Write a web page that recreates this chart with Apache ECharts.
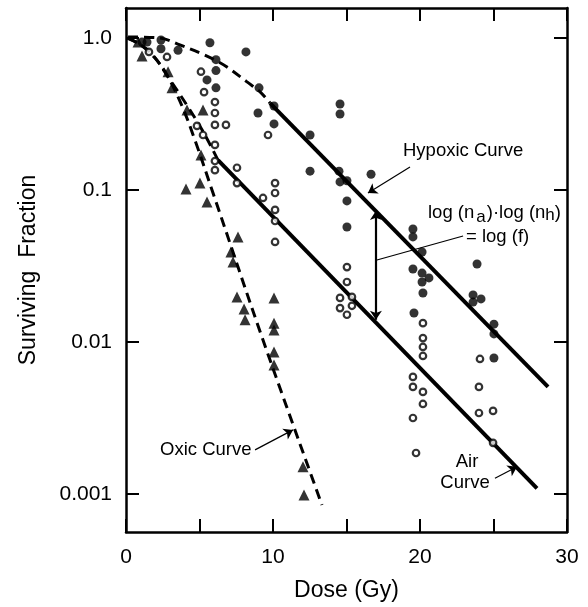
<!DOCTYPE html>
<html>
<head>
<meta charset="utf-8">
<script src="https://cdn.jsdelivr.net/npm/echarts@6/dist/echarts.min.js"></script>
<style>
  html, body { margin: 0; padding: 0; background: #fff; }
  #chart { width: 588px; height: 607px; }
</style>
</head>
<body>
<div id="chart"></div>
<script>
// measured points: [dose (Gy), surviving fraction]
var hypoxicPoints = [[1.09,0.94],[1.43,0.94],[2.38,0.97],[2.38,0.85],[3.54,0.83],[5.71,0.93],[6.12,0.72],
  [8.16,0.81],[6.12,0.61],[5.51,0.53],[6.12,0.47],[9.05,0.47],[10.07,0.357],[8.98,0.321],[10.07,0.272],
  [12.52,0.230],[12.52,0.133],[14.56,0.368],[14.56,0.316],[14.49,0.133],[14.56,0.113],[15.03,0.115],
  [15.03,0.0847],[15.03,0.0571],[16.67,0.127],[19.52,0.0554],[19.52,0.0491],[20.14,0.0391],[19.52,0.0302],
  [20.14,0.0284],[20.61,0.0264],[20.14,0.0248],[20.2,0.021],[19.59,0.0155],[23.88,0.0326],[23.61,0.0204],
  [24.15,0.0192],[23.61,0.0183],[25.03,0.0131],[25.03,0.0113],[25.03,0.00785]];

var airPoints = [[1.56,0.81],[2.79,0.75],[5.10,0.60],[5.31,0.44],[6.05,0.379],[6.05,0.321],[6.80,0.268],
  [6.05,0.268],[5.24,0.230],[4.83,0.264],[6.05,0.198],[6.05,0.155],[6.05,0.135],[7.55,0.140],[7.55,0.111],
  [9.66,0.230],[9.32,0.0886],[10.14,0.111],[10.14,0.0955],[10.14,0.0739],[10.14,0.0625],[10.14,0.0455],
  [15.03,0.0311],[15.03,0.0248],[14.56,0.0195],[15.37,0.0198],[14.56,0.0167],[15.37,0.0173],[15.03,0.0151],
  [20.2,0.0133],[20.2,0.0106],[20.2,0.00927],[20.2,0.00809],[24.08,0.00773],[19.52,0.00589],[19.52,0.00506],
  [20.2,0.00469],[20.2,0.00391],[19.52,0.00316],[19.73,0.00186],[24.01,0.00506],[24.01,0.00341],
  [24.97,0.00352],[24.97,0.00217]];

var oxicPoints = [[0.82,0.94],[1.09,0.76],[2.86,0.60],[3.13,0.47],[4.15,0.336],[5.24,0.336],[5.10,0.170],
  [4.08,0.1016],[5.03,0.111],[5.51,0.0834],[7.62,0.0491],[7.14,0.0391],[7.28,0.0336],[7.55,0.0198],
  [8.03,0.0165],[8.10,0.0140],[10.07,0.0195],[10.07,0.0133],[10.07,0.0120],[10.07,0.00859],[10.07,0.00706],
  [12.04,0.00151],[12.11,0.000985]];

// fitted curves
var hypoxicShoulder = [[0.14,1.015],[2.31,1.0],[3.67,0.90],[5.03,0.797],[6.05,0.716],[6.87,0.644],
  [8.23,0.514],[9.12,0.442],[9.80,0.373]];
var hypoxicLine = [[9.80,0.373],[28.71,0.00506]];
var airShoulder = [[0.14,1.0],[1.63,0.81],[2.99,0.53],[4.35,0.336],[5.37,0.230],[6.26,0.157]];
var airLine = [[6.26,0.157],[27.96,0.00109]];
var oxicCurve = [[0.07,1.0],[0.95,0.91],[1.97,0.738],[2.79,0.571],[3.81,0.357],[4.69,0.213],
  [5.92,0.0955],[9.32,0.0103],[13.33,0.000847]];

var xTicks = [0, 10, 20, 30];
var yTicks = [0.001, 0.01, 0.1, 1];
var yLabels = ['0.001', '0.01', '0.1', '1.0'];

var font = '"Liberation Sans", Arial, sans-serif';
var myChart = echarts.init(document.getElementById('chart'), null, {renderer: 'canvas'});

var axisLineStyle = {color: '#000', width: 2.5};
var tickStyle = {color: '#000', width: 2};

function xAxisDef(pos, showLabel) {
  return {
    type: 'value', position: pos, min: 0, max: 30, interval: 5,
    axisLine: {show: true, onZero: false, lineStyle: axisLineStyle},
    axisTick: {show: true, inside: true, length: 13, lineStyle: tickStyle},
    splitLine: {show: false},
    axisLabel: {
      show: showLabel, color: '#000', fontSize: 21, fontFamily: font, margin: 15,
      formatter: function (v) { return xTicks.indexOf(v) >= 0 ? String(v) : ''; }
    },
    name: showLabel ? 'Dose (Gy)' : '', nameLocation: 'middle', nameGap: 47,
    nameTextStyle: {color: '#000', fontSize: 23, fontFamily: font}
  };
}

function yAxisDef(pos, showLabel) {
  return {
    type: 'log', logBase: 10, position: pos, min: 0.000562, max: 1.575,
    axisLine: {show: true, onZero: false, lineStyle: axisLineStyle},
    axisTick: {show: true, inside: true, length: 13, lineStyle: tickStyle, customValues: yTicks},
    splitLine: {show: false}, minorTick: {show: false},
    axisLabel: {
      show: showLabel, color: '#000', fontSize: 21, fontFamily: font, margin: 14, customValues: yTicks,
      formatter: function (v) {
        var i = yTicks.findIndex(function (t) { return Math.abs(Math.log10(v) - Math.log10(t)) < 1e-6; });
        return i >= 0 ? yLabels[i] : '';
      }
    },
    name: showLabel ? 'Surviving  Fraction' : '', nameLocation: 'middle', nameGap: 86, nameRotate: 90,
    nameTextStyle: {color: '#000', fontSize: 23, fontFamily: font}
  };
}

function curve(data, dashed, width) {
  return {
    type: 'line', data: data, showSymbol: false, symbol: 'none', smooth: dashed ? 0.35 : false,
    lineStyle: {color: '#000', width: width, type: dashed ? [10, 6] : 'solid'},
    z: 2, silent: true
  };
}

var leaderStyle = {color: '#000', width: 1.2, type: 'solid'};

var option = {
  animation: false,
  backgroundColor: '#fff',
  grid: {left: 126, right: 21, top: 8, bottom: 75},
  xAxis: [xAxisDef('bottom', true), xAxisDef('top', false)],
  yAxis: [yAxisDef('left', true), yAxisDef('right', false)],
  series: [
    curve(hypoxicShoulder, true, 3),
    curve(hypoxicLine, false, 4),
    curve(airShoulder, true, 3),
    curve(airLine, false, 4),
    curve(oxicCurve, true, 3),
    {
      type: 'scatter', data: hypoxicPoints, symbol: 'circle', symbolSize: 9,
      itemStyle: {color: '#000'}, z: 3,
      markLine: {
        silent: true, animation: false, label: {show: false}, symbolSize: 9,
        data: [
          // hypoxic curve leader
          [{coord: [19.32, 0.1416], symbol: 'none'},
           {coord: [16.46, 0.0955], symbol: 'arrow', lineStyle: Object.assign({curveness: -0.25}, leaderStyle)}],
          // log(f) leader
          [{coord: [22.93, 0.0498], symbol: 'none'},
           {coord: [17.07, 0.0346], symbol: 'none', lineStyle: Object.assign({curveness: 0.2}, leaderStyle)}],
          // double arrow between hypoxic and air curves
          [{coord: [17.0, 0.0728], symbol: 'arrow'},
           {coord: [17.0, 0.0140], symbol: 'arrow', lineStyle: {color: '#000', width: 2.2, type: 'solid'}}],
          // oxic leader
          [{coord: [8.78, 0.00195], symbol: 'none'},
           {coord: [11.36, 0.00264], symbol: 'arrow', lineStyle: Object.assign({curveness: 0.2}, leaderStyle)}],
          // air leader
          [{coord: [25.10, 0.00127], symbol: 'none'},
           {coord: [26.60, 0.00151], symbol: 'arrow', lineStyle: Object.assign({curveness: 0}, leaderStyle)}]
        ]
      }
    },
    {
      type: 'scatter', data: airPoints, symbol: 'circle', symbolSize: 6.5,
      itemStyle: {color: '#fff', borderColor: '#000', borderWidth: 2.2}, z: 3
    },
    {
      type: 'scatter', data: oxicPoints, symbol: 'triangle', symbolSize: 11,
      itemStyle: {color: '#000'}, z: 3
    }
  ],
  graphic: [
    {type: 'text', x: 403, y: 151, style: {text: 'Hypoxic Curve', font: '18.5px ' + font, fill: '#000', verticalAlign: 'middle'}},
    {type: 'text', x: 428, y: 213, style: {
      text: '{n|log (n}{s|a}{n|)·log (n}{h|h}{n|)}', verticalAlign: 'middle', fill: '#000',
      rich: {
        n: {fontSize: 18.5, fontFamily: font, fill: '#000', lineHeight: 24},
        s: {fontSize: 17, fontFamily: font, fill: '#000', lineHeight: 24, padding: [9, 1, 0, 2]},
        h: {fontSize: 17, fontFamily: font, fill: '#000', lineHeight: 24, padding: [4, 0, 0, 0]}
      }
    }},
    {type: 'text', x: 466, y: 237, style: {text: '= log (f)', font: '18.5px ' + font, fill: '#000', verticalAlign: 'middle'}},
    {type: 'text', x: 160, y: 450, style: {text: 'Oxic Curve', font: '18.5px ' + font, fill: '#000', verticalAlign: 'middle'}},
    {type: 'text', x: 467, y: 462, style: {text: 'Air', font: '18.5px ' + font, fill: '#000', align: 'center', verticalAlign: 'middle'}},
    {type: 'text', x: 465, y: 483, style: {text: 'Curve', font: '18.5px ' + font, fill: '#000', align: 'center', verticalAlign: 'middle'}}
  ]
};

myChart.setOption(option);
</script>
</body>
</html>
